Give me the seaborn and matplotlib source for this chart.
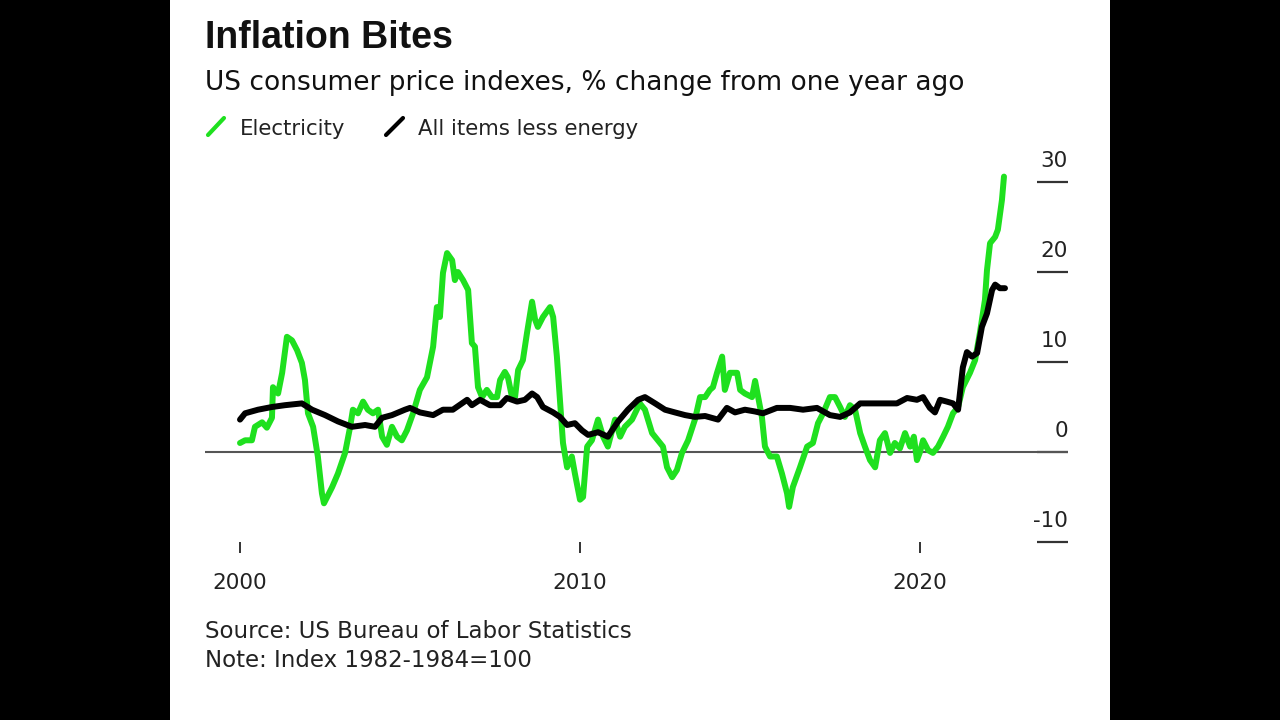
import matplotlib
matplotlib.use("Agg")
import matplotlib.pyplot as plt
import matplotlib.transforms as mtransforms
from matplotlib.patches import Rectangle
from matplotlib.lines import Line2D
import seaborn as sns
import pandas as pd

# ---------------- data ----------------
elec_years = [2000.00, 2000.15, 2000.35, 2000.44, 2000.65, 2000.79, 2000.94, 2000.97, 2001.12, 2001.24,
              2001.38, 2001.53, 2001.68, 2001.82, 2001.91, 2002.00, 2002.15, 2002.29, 2002.41, 2002.47,
              2002.71, 2002.88, 2003.09, 2003.24, 2003.32, 2003.47, 2003.62, 2003.76, 2003.91, 2004.06,
              2004.18, 2004.32, 2004.47, 2004.62, 2004.76, 2004.91, 2005.09, 2005.29, 2005.50, 2005.68,
              2005.79, 2005.88, 2005.97, 2006.09, 2006.24, 2006.32, 2006.41, 2006.56, 2006.71, 2006.82,
              2006.91, 2007.00, 2007.12, 2007.26, 2007.41, 2007.56, 2007.65, 2007.79, 2007.88, 2008.00,
              2008.09, 2008.18, 2008.32, 2008.44, 2008.59, 2008.68, 2008.76, 2008.91, 2009.12, 2009.21,
              2009.32, 2009.41, 2009.50, 2009.62, 2009.76, 2009.85, 2010.00, 2010.09, 2010.21, 2010.35,
              2010.53, 2010.68, 2010.82, 2011.03, 2011.18, 2011.32, 2011.53, 2011.76, 2011.91, 2012.12,
              2012.29, 2012.44, 2012.56, 2012.71, 2012.85, 2013.00, 2013.18, 2013.38, 2013.53, 2013.68,
              2013.82, 2013.91, 2014.03, 2014.18, 2014.26, 2014.41, 2014.62, 2014.71, 2014.85, 2015.06,
              2015.15, 2015.35, 2015.44, 2015.59, 2015.79, 2015.94, 2016.09, 2016.15, 2016.26, 2016.47,
              2016.68, 2016.85, 2017.00, 2017.15, 2017.35, 2017.50, 2017.65, 2017.79, 2017.94, 2018.09,
              2018.24, 2018.38, 2018.53, 2018.68, 2018.82, 2018.97, 2019.12, 2019.26, 2019.41, 2019.56,
              2019.71, 2019.82, 2019.91, 2020.00, 2020.09, 2020.24, 2020.38, 2020.53, 2020.68, 2020.82,
              2020.97, 2021.12, 2021.26, 2021.47, 2021.62, 2021.76, 2021.91, 2021.97, 2022.06, 2022.21,
              2022.29, 2022.41, 2022.47]
elec_values = [1.0, 1.3, 1.3, 2.8, 3.3, 2.7, 3.8, 7.2, 6.5, 8.8,
               12.8, 12.4, 11.3, 9.9, 8.0, 4.3, 2.8, -0.5, -4.6, -5.7,
               -3.9, -2.4, -0.1, 2.8, 4.7, 4.3, 5.6, 4.7, 4.3, 4.7,
               1.7, 0.8, 2.8, 1.7, 1.3, 2.4, 4.3, 6.9, 8.3, 11.7,
               16.1, 15.0, 19.9, 22.1, 21.3, 19.1, 20.0, 19.1, 18.0, 12.1,
               11.7, 7.2, 6.1, 6.9, 6.1, 6.1, 8.0, 8.9, 8.3, 6.1,
               6.1, 9.1, 10.2, 13.2, 16.7, 14.7, 13.9, 15.0, 16.1, 15.0,
               10.6, 5.8, 1.0, -1.7, -0.5, -2.4, -5.3, -5.0, 0.6, 1.3,
               3.6, 1.7, 0.6, 3.6, 1.7, 2.8, 3.6, 5.4, 4.7, 2.1,
               1.3, 0.6, -1.7, -2.8, -2.0, -0.1, 1.3, 3.6, 6.1, 6.1,
               6.9, 7.2, 8.8, 10.6, 6.9, 8.8, 8.8, 6.9, 6.5, 6.1,
               7.9, 3.9, 0.6, -0.5, -0.5, -2.4, -4.6, -6.1, -3.9, -1.7,
               0.6, 1.0, 3.2, 4.3, 6.1, 6.1, 5.0, 3.9, 5.2, 4.7,
               2.1, 0.6, -0.9, -1.7, 1.3, 2.1, -0.1, 1.0, 0.4, 2.1,
               0.6, 1.7, -0.9, 0.0, 1.3, 0.2, -0.1, 0.6, 1.7, 2.8,
               4.3, 5.0, 7.2, 8.8, 10.2, 13.2, 16.9, 20.2, 23.2, 23.9,
               24.7, 28.0, 30.6]

core_years = [2000.00, 2000.15, 2000.53, 2000.94, 2001.32, 2001.82, 2002.12, 2002.50, 2002.88, 2003.29,
              2003.68, 2003.97, 2004.18, 2004.47, 2004.85, 2005.00, 2005.29, 2005.68, 2005.97, 2006.26,
              2006.68, 2006.82, 2007.06, 2007.35, 2007.65, 2007.85, 2008.15, 2008.38, 2008.59, 2008.74,
              2008.91, 2009.21, 2009.41, 2009.62, 2009.85, 2010.06, 2010.24, 2010.53, 2010.82, 2011.12,
              2011.41, 2011.71, 2011.91, 2012.21, 2012.50, 2012.79, 2013.09, 2013.38, 2013.68, 2014.06,
              2014.32, 2014.56, 2014.85, 2015.15, 2015.38, 2015.79, 2016.18, 2016.56, 2016.97, 2017.35,
              2017.65, 2017.94, 2018.24, 2018.53, 2018.91, 2019.32, 2019.62, 2019.91, 2020.09, 2020.29,
              2020.44, 2020.59, 2020.79, 2020.97, 2021.12, 2021.26, 2021.38, 2021.53, 2021.68, 2021.82,
              2021.97, 2022.12, 2022.21, 2022.35, 2022.50]
core_values = [3.6, 4.3, 4.7, 5.0, 5.2, 5.4, 4.7, 4.1, 3.4, 2.8,
               3.0, 2.8, 3.8, 4.1, 4.7, 4.9, 4.4, 4.1, 4.7, 4.7,
               5.8, 5.2, 5.8, 5.2, 5.2, 6.0, 5.6, 5.8, 6.5, 6.1,
               5.0, 4.4, 3.9, 3.0, 3.2, 2.4, 1.9, 2.2, 1.7, 3.4,
               4.7, 5.8, 6.1, 5.4, 4.7, 4.4, 4.1, 3.9, 4.0, 3.6,
               4.9, 4.4, 4.7, 4.5, 4.3, 4.9, 4.9, 4.7, 4.9, 4.1,
               3.9, 4.4, 5.4, 5.4, 5.4, 5.4, 6.0, 5.8, 6.1, 4.9,
               4.4, 5.8, 5.6, 5.4, 4.7, 9.4, 11.1, 10.6, 11.0, 13.9,
               15.4, 18.0, 18.6, 18.2, 18.2]

x_ticks = [2000, 2010, 2020]
x_tick_labels = ["2000", "2010", "2020"]
y_ticks = [-10, 0, 10, 20, 30]
y_tick_labels = ["-10", "0", "10", "20", "30"]

series_names = ["Electricity", "All items less energy"]
title = "Inflation Bites"
subtitle = "US consumer price indexes, % change from one year ago"
source = "Source: US Bureau of Labor Statistics"
note = "Note: Index 1982-1984=100"

GREEN = "#1fe01f"
BLACK = "#000000"
AXIS = "#333333"

# ---------------- figure ----------------
sns.set_style("white")
plt.rcParams["font.family"] = ["DejaVu Sans"]

W, H = 1280, 720
fig = plt.figure(figsize=(12.8, 7.2), dpi=100, facecolor="black")
fig.patches.append(Rectangle((170 / W, 0), (1110 - 170) / W, 1, transform=fig.transFigure,
                             facecolor="white", edgecolor="none", zorder=-10))

ax = fig.add_axes([205 / W, 1 - 542 / H, (1068 - 205) / W, (542 - 155) / H])
ax.set_facecolor("none")
ax.set_zorder(5)

elec_df = pd.DataFrame({"year": elec_years, "value": elec_values})
core_df = pd.DataFrame({"year": core_years, "value": core_values})

ax.axhline(0, color="#555555", lw=1.5, zorder=1)
sns.lineplot(data=elec_df, x="year", y="value", ax=ax, color=GREEN, lw=4.3,
             estimator=None, sort=False, solid_capstyle="round", solid_joinstyle="round", zorder=2)
sns.lineplot(data=core_df, x="year", y="value", ax=ax, color=BLACK, lw=4.3,
             estimator=None, sort=False, solid_capstyle="round", solid_joinstyle="round", zorder=3)

ax.set_xlim(2000 + (205 - 240) / 34, 2000 + (1068 - 240) / 34)
ax.set_ylim(-10, 33)
for s in ax.spines.values():
    s.set_visible(False)
ax.set_xlabel("")
ax.set_ylabel("")

ax.set_xticks(x_ticks)
ax.set_xticklabels(x_tick_labels)
ax.tick_params(axis="x", bottom=True, direction="out", length=8, width=1.4, color=AXIS,
               pad=14, labelsize=15.5, labelcolor="#222222")

ax.yaxis.tick_right()
ax.set_yticks(y_ticks)
ax.tick_params(axis="y", right=True, left=False, direction="in", length=22.3, width=1.6,
               color=AXIS, labelright=False, labelleft=False)
trans = mtransforms.blended_transform_factory(ax.transAxes, ax.transData)
for v, lab in zip(y_ticks, y_tick_labels):
    ax.text(1.0, v + 1.67, lab, transform=trans, ha="right", va="baseline",
            fontsize=15.5, color="#222222")
ax.grid(False)

# ---------------- texts ----------------
fig.text(205 / W, 1 - 48 / H, title, fontsize=27, fontweight="bold",
         family=["Liberation Sans", "DejaVu Sans"], ha="left", va="baseline", color="#111111")
fig.text(205 / W, 1 - 90 / H, subtitle, fontsize=19, ha="left", va="baseline", color="#111111")

# legend
fig.add_artist(Line2D([208 / W, 224 / W], [1 - 135 / H, 1 - 118 / H], color=GREEN, lw=3,
                      solid_capstyle="round", transform=fig.transFigure))
fig.text(240 / W, 1 - 135 / H, series_names[0], fontsize=15.3, ha="left", va="baseline", color="#222222")
fig.add_artist(Line2D([386 / W, 403 / W], [1 - 135 / H, 1 - 118 / H], color=BLACK, lw=3,
                      solid_capstyle="round", transform=fig.transFigure))
fig.text(418 / W, 1 - 135 / H, series_names[1], fontsize=15.3, ha="left", va="baseline", color="#222222")

fig.text(205 / W, 1 - 638 / H, source, fontsize=16.5, ha="left", va="baseline", color="#222222")
fig.text(205 / W, 1 - 667 / H, note, fontsize=16.5, ha="left", va="baseline", color="#222222")

fig.savefig("out.png", dpi=100, facecolor=fig.get_facecolor())
